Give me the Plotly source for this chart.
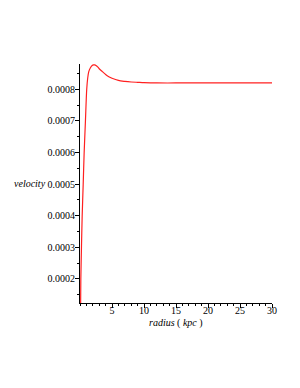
import plotly.graph_objects as go

radius_kpc = [0.1, 0.13, 0.23, 0.34, 0.5, 0.65, 0.85, 1.05, 1.2, 1.37, 1.63, 1.9, 2.1, 2.3, 2.5, 2.8,
              3.0, 3.5, 4.0, 4.5, 5.0, 6.0, 7.0, 8.0, 9.0, 10.0, 12.0, 15.0, 20.0, 25.0, 30.0]
velocity = [0.000124, 0.0002, 0.0003, 0.0004, 0.0005, 0.0006, 0.0007, 0.0008, 0.000835, 0.000856,
            0.000868, 0.000875, 0.000877, 0.000877, 0.000875, 0.00087,
            0.000865, 0.000856, 0.000847, 0.00084, 0.000835, 0.000828, 0.000825, 0.000823, 0.000822,
            0.000821, 0.00082, 0.00082, 0.00082, 0.00082, 0.00082]

x_ticks = [5, 10, 15, 20, 25, 30]
y_ticks = [0.0002, 0.0003, 0.0004, 0.0005, 0.0006, 0.0007, 0.0008]
y_labels = ["0.0002", "0.0003", "0.0004", "0.0005", "0.0006", "0.0007", "0.0008"]

fig = go.Figure()
fig.add_trace(go.Scatter(x=radius_kpc, y=velocity, mode="lines",
                         line=dict(color="#ff2020", width=1.2, shape="spline", smoothing=0.8),
                         showlegend=False, hoverinfo="skip"))

font = dict(family="Liberation Serif, Times New Roman, serif", size=10, color="black")

# page body has an 8px margin; target plot area: x 80..272, y 64..303 (window pixels)
L, T = 80 - 8, 64 - 8
W, H = 300, 388
R = W - (272 - 8)
B = H - (303 - 8)
pw, ph = 272 - 80, 303 - 64

fig.update_layout(
    width=W, height=H,
    margin=dict(l=L, r=R, t=T, b=B),
    paper_bgcolor="white", plot_bgcolor="white",
    font=font,
    xaxis=dict(range=[0, 30], tickmode="array", tickvals=x_ticks, ticktext=[str(v) for v in x_ticks],
               showgrid=False, zeroline=False, showline=True, linecolor="black", linewidth=1,
               ticks="outside", ticklen=4, tickcolor="black", tickwidth=1, ticklabelstandoff=-6,
               minor=dict(ticks="outside", dtick=1, tick0=0, ticklen=2, tickcolor="black", showgrid=False),
               tickfont=font),
    yaxis=dict(range=[0.000124, 0.00088], tickmode="array", tickvals=y_ticks, ticktext=y_labels,
               showgrid=False, zeroline=False, showline=True, linecolor="black", linewidth=1,
               ticks="outside", ticklen=4, tickcolor="black", tickwidth=1, ticklabelstandoff=-2,
               minor=dict(ticks="outside", dtick=0.0001, tick0=0.00005, ticklen=2, tickcolor="black", showgrid=False),
               tickfont=font),
    annotations=[
        dict(text="<i>velocity</i>", xref="paper", yref="paper", showarrow=False, font=font,
             x=(30 - 80) / pw, y=(303 - 183) / ph, xanchor="center", yanchor="middle"),
        dict(text="<i>radius</i> ( <i>kpc</i> )", xref="paper", yref="paper", showarrow=False, font=font,
             x=(175.5 - 80) / pw, y=(303 - 323) / ph, xanchor="center", yanchor="middle"),
    ],
)

fig.write_html("out.html")
